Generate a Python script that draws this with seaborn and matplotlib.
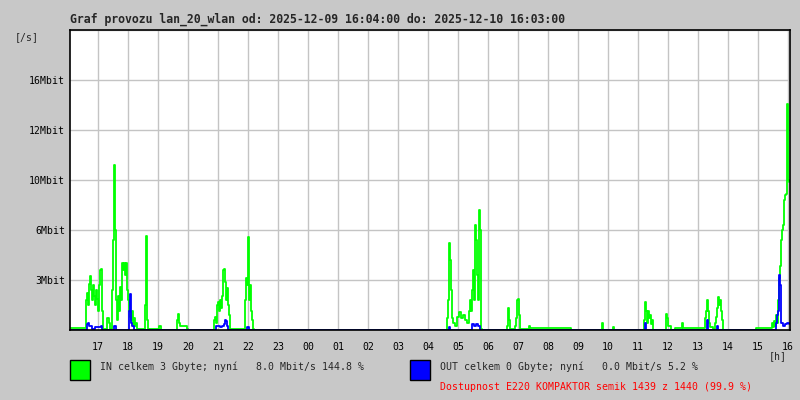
#!/usr/bin/env python3
"""Traffic graph for lan_20_wlan (MRTG style), 24 h window."""

import pandas as pd
import matplotlib
matplotlib.use("Agg")
import matplotlib.pyplot as plt
from matplotlib.patches import Rectangle
import seaborn as sns

# minutes since 16:04 and rate in Mbit/s
in_minutes = [
    0, 30, 32, 34, 36, 38, 40, 42, 44, 46, 48, 50, 52, 54, 56, 58, 60, 62, 64, 66,
    74, 78, 80, 84, 86, 88, 90, 92, 94, 96, 98, 100, 102, 104, 106, 108, 110, 112,
    114, 116, 118, 120, 122, 124, 126, 128, 130, 132, 134, 148, 150, 152, 154, 156,
    178, 180, 182, 212, 214, 216, 218, 220, 226, 234, 236,
    286, 288, 290, 292, 294, 296, 298, 300, 302, 304, 306, 308, 310, 312, 314, 316,
    318, 320, 348, 350, 352, 354, 356, 358, 360, 362, 364, 366, 368,
    752, 754, 756, 758, 760, 762, 764, 766, 770, 774, 778, 782, 786, 790, 794, 798,
    800, 802, 804, 806, 808, 810, 812, 814, 816, 818, 820, 822, 824,
    872, 874, 876, 878, 880, 888, 890, 892, 894, 896, 898, 900, 916, 918, 920, 1000,
    1002, 1062, 1064, 1066, 1084, 1086, 1088,
    1146, 1148, 1150, 1152, 1154, 1156, 1158, 1160, 1162, 1164, 1166,
    1190, 1192, 1194, 1196, 1200, 1202, 1208, 1210, 1222, 1224, 1226,
    1268, 1270, 1272, 1274, 1276, 1278, 1280, 1286, 1290, 1292, 1294, 1296, 1298,
    1300, 1302, 1304, 1306, 1370, 1372, 1402, 1404, 1406, 1408, 1410, 1412, 1414,
    1416, 1418, 1420, 1422, 1424, 1426, 1428, 1430, 1432, 1434, 1436, 1438,
]
in_mbit = [
    0.13, 0.13, 2.0, 2.5, 1.7, 3.1, 3.6, 2.7, 2.0, 3.0, 2.3, 1.7, 2.7, 2.1, 1.3, 3.0, 4.0, 4.1, 1.3, 0.1,
    0.8, 0.5, 0.1, 2.7, 6.0, 11.0, 6.7, 2.0, 0.7, 2.3, 1.3, 2.9, 2.0, 4.5, 4.0, 4.5, 3.7, 4.5,
    2.7, 2.0, 1.3, 0.9, 0.7, 1.3, 0.3, 0.8, 0.3, 0.5, 0.1, 0.1, 1.7, 6.3, 0.7, 0.1,
    0.3, 0.3, 0.0, 0.0, 0.7, 1.1, 0.5, 0.3, 0.3, 0.1, 0.0,
    0.0, 0.7, 0.9, 0.5, 1.7, 1.9, 1.3, 2.0, 1.5, 2.3, 4.0, 4.1, 3.2, 2.0, 2.8, 1.7,
    1.0, 0.1, 0.0, 2.0, 3.5, 3.0, 6.2, 2.0, 3.0, 1.3, 0.7, 0.1, 0.0,
    0.0, 0.8, 2.0, 5.8, 4.7, 2.7, 0.8, 0.5, 0.3, 0.9, 1.2, 0.8, 1.0, 0.7, 0.5, 1.3,
    2.0, 1.3, 2.7, 4.0, 2.0, 7.0, 6.0, 3.7, 2.0, 8.0, 6.7, 0.1, 0.0,
    0.0, 0.3, 1.5, 0.7, 0.1, 0.0, 0.3, 0.8, 2.0, 2.1, 1.0, 0.1, 0.0, 0.3, 0.13, 0.13,
    0.0, 0.0, 0.5, 0.0, 0.0, 0.2, 0.0,
    0.0, 0.7, 1.9, 1.3, 0.5, 1.3, 0.8, 1.0, 0.4, 0.7, 0.0,
    0.0, 1.1, 0.8, 0.3, 0.3, 0.0, 0.0, 0.13, 0.13, 0.5, 0.13,
    0.13, 0.8, 1.3, 2.0, 1.3, 0.5, 0.2, 0.1, 0.5, 0.9, 1.5, 2.2, 1.7,
    2.0, 1.3, 0.7, 0.0, 0.0, 0.13, 0.13, 0.5, 0.2, 0.6, 0.3, 1.0, 0.5,
    2.0, 3.5, 4.3, 6.0, 6.7, 7.0, 8.7, 9.0, 9.1, 15.1, 10.0, 9.9,
]

out_minutes = [
    0, 30, 34, 36, 38, 40, 44, 50, 56, 62, 64, 86, 88, 90, 92,
    116, 118, 120, 122, 124, 128, 288, 292, 296, 300, 304, 308, 310, 312, 314, 316,
    352, 354, 356, 358, 756, 758, 760, 802, 804, 808, 812, 816, 818, 820,
    1148, 1150, 1152, 1272, 1274, 1276, 1292, 1294, 1296,
    1410, 1412, 1414, 1416, 1418, 1420, 1422, 1426, 1430, 1434, 1438,
]
out_mbit = [
    0.0, 0.0, 0.4, 0.5, 0.3, 0.3, 0.1, 0.2, 0.2, 0.3, 0.0, 0.0, 0.3, 0.3, 0.0,
    0.0, 1.3, 2.4, 0.5, 0.3, 0.0, 0.0, 0.3, 0.3, 0.2, 0.3, 0.4, 0.7, 0.6, 0.3, 0.0,
    0.0, 0.2, 0.2, 0.0, 0.0, 0.2, 0.0, 0.0, 0.4, 0.3, 0.4, 0.3, 0.3, 0.0,
    0.0, 0.5, 0.0, 0.0, 0.7, 0.0, 0.0, 0.3, 0.0,
    0.0, 0.5, 1.0, 1.3, 3.7, 3.0, 0.5, 0.3, 0.4, 0.5, 0.4,
]

hour_labels = ["17", "18", "19", "20", "21", "22", "23", "00", "01", "02", "03", "04",
               "05", "06", "07", "08", "09", "10", "11", "12", "13", "14", "15", "16"]
y_labels = ["3Mbit", "6Mbit", "10Mbit", "12Mbit", "16Mbit"]

title = "Graf provozu lan_20_wlan od: 2025-12-09 16:04:00 do: 2025-12-10 16:03:00"
in_text = "IN celkem 3 Gbyte; nyní   8.0 Mbit/s 144.8 %"
out_text = "OUT celkem 0 Gbyte; nyní   0.0 Mbit/s 5.2 %"
avail_text = "Dostupnost E220 KOMPAKTOR semik 1439 z 1440 (99.9 %)"

BG = "#c8c8c8"
GRID = "#c4c4c4"
GREEN = "#00ff00"
BLUE = "#0000ff"


def main():
    sns.set_theme(style="white")
    plt.rcParams["font.family"] = ["DejaVu Sans Mono", "DejaVu Sans"]

    df_in = pd.DataFrame({"minute": in_minutes, "mbit": in_mbit})
    df_out = pd.DataFrame({"minute": out_minutes, "mbit": out_mbit})

    fig = plt.figure(figsize=(8, 4), dpi=100, facecolor=BG)
    ax = fig.add_axes([70 / 800, 70 / 400, 720 / 800, 300 / 400])
    ax.set_facecolor("white")

    sns.lineplot(data=df_in, x="minute", y="mbit", ax=ax, color=GREEN,
                 lw=1.3, drawstyle="steps-post", estimator=None, zorder=3)
    sns.lineplot(data=df_out, x="minute", y="mbit", ax=ax, color=BLUE,
                 lw=1.3, drawstyle="steps-post", estimator=None, zorder=4)

    # hour ticks: window starts at 16:04
    hour_pos = [((int(h) - 16) * 60 - 4) % 1440 for h in hour_labels]
    ax.set_xlim(0, 1440)
    ax.set_xticks(hour_pos)
    ax.set_xticklabels(hour_labels)

    ymax = 20.0
    ax.set_ylim(0, ymax)
    ax.set_yticks([ymax / 6 * k for k in range(1, 6)])
    ax.set_yticklabels(y_labels)
    for k in range(1, 7):
        ax.axhline(ymax / 6 * k, color=GRID, lw=1, zorder=1)
    for p in hour_pos:
        ax.axvline(p, color=GRID, lw=1, zorder=1)

    ax.tick_params(axis="both", length=0, labelsize=7.1, colors="black")
    ax.tick_params(axis="x", pad=8.5)
    ax.tick_params(axis="y", pad=3.6)
    ax.set_xlabel("")
    ax.set_ylabel("")
    for s in ax.spines.values():
        s.set_visible(True)
        s.set_color("black")
        s.set_linewidth(1.2)
        s.set_zorder(5)

    fig.text(70 / 800, 1 - 19 / 400, title, fontsize=8.3, fontweight="bold",
             va="center", ha="left")
    fig.text(15 / 800, 1 - 37 / 400, "[/s]", fontsize=7.1, va="center", ha="left")
    fig.text(787 / 800, 1 - 356 / 400, "[h]", fontsize=7.1, va="center", ha="right")

    # legend swatches
    fig.patches.append(Rectangle((70 / 800, 1 - 380 / 400), 20 / 800, 20 / 400,
                                 transform=fig.transFigure, facecolor=GREEN,
                                 edgecolor="black", lw=1))
    fig.patches.append(Rectangle((410 / 800, 1 - 380 / 400), 20 / 800, 20 / 400,
                                 transform=fig.transFigure, facecolor=BLUE,
                                 edgecolor="black", lw=1))
    fig.text(100 / 800, 1 - 367 / 400, in_text, fontsize=7.1, va="center", ha="left")
    fig.text(440 / 800, 1 - 367 / 400, out_text, fontsize=7.1, va="center", ha="left")
    fig.text(440 / 800, 1 - 387 / 400, avail_text, fontsize=7.1, va="center",
             ha="left", color="#ff0000")

    fig.savefig("out.png", dpi=100, facecolor=BG)


if __name__ == "__main__":
    main()
